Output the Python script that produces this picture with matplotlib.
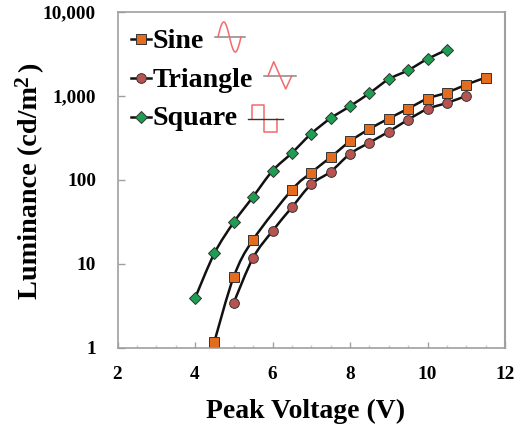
#!/usr/bin/env python3
"""Luminance vs peak voltage for three drive waveforms."""

import numpy as np
import matplotlib
matplotlib.use("Agg")
import matplotlib.pyplot as plt
from matplotlib.path import Path
from matplotlib.patches import PathPatch

plt.rcParams["font.family"] = ["Liberation Serif", "DejaVu Serif"]
plt.rcParams["font.weight"] = "bold"

# Values
sine_v = [4.5, 5, 5.5, 6.5, 7, 7.5, 8, 8.5, 9, 9.5, 10, 10.5, 11, 11.5]
sine_l = [1.18, 7.0, 19.4, 76, 122, 186, 288, 404, 537, 706, 929, 1095, 1364, 1652]
triangle_v = [5, 5.5, 6, 6.5, 7, 7.5, 8, 8.5, 9, 9.5, 10, 10.5, 11]
triangle_l = [3.44, 11.8, 24.6, 47, 88.6, 125, 204, 278, 375, 522, 700, 825, 1000]
square_v = [4, 4.5, 5, 5.5, 6, 6.5, 7, 7.5, 8, 8.5, 9, 9.5, 10, 10.5]
square_l = [3.88, 13.3, 31.2, 63, 128, 209, 355, 542, 754, 1077, 1581, 2025, 2760, 3534]

x_ticks = [2, 4, 6, 8, 10, 12]
y_ticks = [1, 10, 100, 1000, 10000]
y_tick_labels = ["1", "10", "100", "1,000", "10,000"]

ORANGE = "#E36C1E"
RED = "#B85450"
GREEN = "#1E9E50"
GREY = "#A0A0A0"
PINK = "#F26A6A"

W, H = 522, 425


def smooth_path(xs, ys):
    """Catmull-Rom curve through the points, straight in log-y space (like Excel's smoothed lines)."""
    px = np.array(xs, dtype=float)
    py = np.log10(ys)
    verts = [(px[0], py[0])]
    for i in range(len(px) - 1):
        a, b = max(i - 1, 0), min(i + 2, len(px) - 1)
        verts.append((px[i] + (px[i + 1] - px[a]) / 6, py[i] + (py[i + 1] - py[a]) / 6))
        verts.append((px[i + 1] - (px[b] - px[i]) / 6, py[i + 1] - (py[b] - py[i]) / 6))
        verts.append((px[i + 1], py[i + 1]))
    verts = [(x, 10 ** y) for x, y in verts]
    codes = [Path.MOVETO] + [Path.CURVE4] * (len(verts) - 1)
    return Path(verts, codes)


fig = plt.figure(figsize=(W / 100, H / 100), dpi=100)
ax = fig.add_axes([117.5 / W, 1 - 347.7 / H, 387.5 / W, 335.7 / H])
ax.set_yscale("log")
ax.set_xlim(2, 12)
ax.set_ylim(1, 10000)

series = [
    (sine_v, sine_l, "s", ORANGE, 6.5),
    (triangle_v, triangle_l, "o", RED, 7.0),
    (square_v, square_l, "D", GREEN, 5.7),
]
for xs, ys, marker, color, size in series:
    ax.add_patch(PathPatch(smooth_path(xs, ys), fill=False, ec="#111111", lw=1.8))
    ax.plot(xs, ys, ls="none", marker=marker, ms=size,
            mfc=color, mec="#333333", mew=0.7, clip_on=False)

ax.set_xticks(x_ticks)
ax.set_xticks(np.arange(2, 12.01, 0.5), minor=True)
ax.set_yticks(y_ticks)
ax.set_yticklabels(y_tick_labels)
ax.yaxis.set_minor_locator(plt.NullLocator())
ax.tick_params(axis="y", which="major", direction="in", length=4.7, width=1.0,
               color=GREY, labelsize=13.9, pad=15.5)
ax.tick_params(axis="x", which="major", direction="in", length=4, width=1.0,
               color=GREY, labelsize=13.9, pad=13)
ax.tick_params(axis="x", which="minor", direction="in", length=2.4, width=1.0, color="#C8C8C8")
for spine in ax.spines.values():
    spine.set_color(GREY)
    spine.set_linewidth(1.2)
ax.spines["right"].set_linewidth(1.5)

# Hand-drawn legend with waveform icons, in pixel coordinates
key = fig.add_axes([0, 0, 1, 1], facecolor="none")
key.set_xlim(0, W)
key.set_ylim(H, 0)
key.axis("off")

key.text(305.5, 418, "Peak Voltage (V)", fontsize=20, ha="center", va="baseline")

# y label in three pieces so the superscript keeps its large size
ylabel_parts = [("Luminance (cd/m", 37, 299, 20.3), ("2", 28, 87, 15.5), (")", 37, 72, 20.3)]
for part, x, y, size in ylabel_parts:
    key.text(x, y, part, fontsize=size, rotation=90, ha="left", va="baseline", rotation_mode="anchor")

legend_rows = [("Sine", 39, 48, "s", ORANGE, 6.5), ("Triangle", 78, 87, "o", RED, 7.0),
               ("Square", 117, 125, "D", GREEN, 5.7)]
for label, y, base, marker, color, size in legend_rows:
    key.plot([131, 151], [y, y], color="#111111", lw=1.8)
    key.plot([141], [y], marker=marker, ms=size, mfc=color, mec="#333333", mew=0.7)
    key.text(153, base, label, fontsize=20.2, va="baseline", ha="left")

# sine icon
t = np.linspace(0, 2 * np.pi, 80)
key.plot([215, 245], [36.7, 36.7], color="#888888", lw=1.1)
key.plot(218 + t / (2 * np.pi) * 23, 37 - 15 * np.sin(t), color=PINK, lw=1.1)
# triangle icon
key.plot([264, 296], [76, 76], color="#888888", lw=1.1)
key.plot([268, 273.7, 285.7, 291.7], [76, 61.7, 89, 76], color=PINK, lw=1.1)
# square icon
key.plot([251.7, 251.7, 264.3, 264.3, 277, 277], [119, 105.3, 105.3, 132.3, 132.3, 119], color=PINK, lw=1.1)
key.plot([247.7, 283], [119, 119], color="#333333", lw=1.0)

fig.savefig("out.png", dpi=100, facecolor="white")
